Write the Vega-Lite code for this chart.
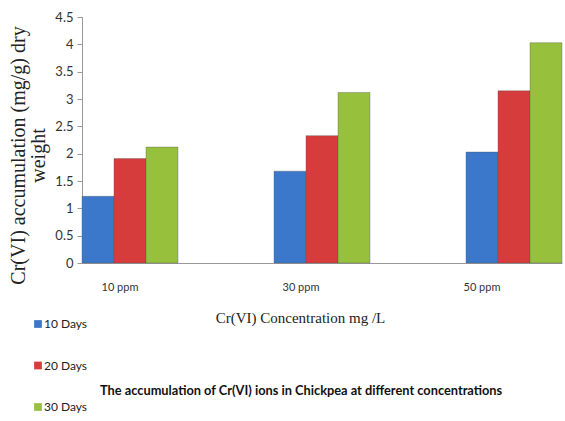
{
  "$schema": "https://vega.github.io/schema/vega-lite/v6.json",
  "autosize": {"type": "none"},
  "width": 480,
  "height": 246,
  "padding": {"left": 82, "top": 17, "right": 3, "bottom": 158},
  "background": "white",
  "data": {
    "values": [
      {"conc": "10 ppm", "series": "10 Days", "value": 1.22},
      {"conc": "10 ppm", "series": "20 Days", "value": 1.91},
      {"conc": "10 ppm", "series": "30 Days", "value": 2.12},
      {"conc": "30 ppm", "series": "10 Days", "value": 1.68},
      {"conc": "30 ppm", "series": "20 Days", "value": 2.33},
      {"conc": "30 ppm", "series": "30 Days", "value": 3.12},
      {"conc": "50 ppm", "series": "10 Days", "value": 2.03},
      {"conc": "50 ppm", "series": "20 Days", "value": 3.15},
      {"conc": "50 ppm", "series": "30 Days", "value": 4.03}
    ]
  },
  "title": {
    "text": "The accumulation of Cr(VI) ions in Chickpea at different concentrations",
    "orient": "bottom",
    "anchor": "start",
    "frame": "group",
    "font": "Lato",
    "fontSize": 12.8,
    "fontWeight": "bold",
    "color": "#111111",
    "offset": -28,
    "dx": 18
  },
  "mark": {"type": "bar", "stroke": "#555555", "strokeWidth": 0.6, "strokeOpacity": 0.6},
  "encoding": {
    "x": {
      "field": "conc",
      "type": "nominal",
      "scale": {"paddingInner": 0.5, "paddingOuter": 0},
      "axis": {
        "title": "Cr(VI) Concentration mg /L",
        "titleFont": "Liberation Serif",
        "titleFontWeight": "normal",
        "titleFontSize": 15,
        "titleColor": "#222222",
        "titleX": 218,
        "titleY": 47,
        "labelAngle": 0,
        "labelFont": "Lato",
        "labelFontSize": 11,
        "labelColor": "#333333",
        "labelPadding": 18,
        "labelOffset": {"condition": [{"test": "datum.value === '10 ppm'", "value": -10}, {"test": "datum.value === '30 ppm'", "value": -21}], "value": -32},
        "ticks": false,
        "domainColor": "#999999"
      }
    },
    "xOffset": {"field": "series", "type": "nominal", "scale": {"paddingInner": 0, "paddingOuter": 0}},
    "y": {
      "field": "value",
      "type": "quantitative",
      "scale": {"domain": [0, 4.5], "nice": false},
      "axis": {
        "values": [0, 0.5, 1, 1.5, 2, 2.5, 3, 3.5, 4, 4.5],
        "format": ".1~f",
        "grid": false,
        "title": ["Cr(VI) accumulation (mg/g) dry", "weight"],
        "titleFont": "Liberation Serif",
        "titleFontWeight": "normal",
        "titleFontSize": 20,
        "titleColor": "#222222",
        "titleLineHeight": 20,
        "titleX": -54,
        "titleY": 138,
        "labelFont": "Lato",
        "labelFontSize": 13,
        "labelColor": "#333333",
        "labelPadding": 4,
        "tickSize": 5,
        "tickColor": "#999999",
        "domainColor": "#999999"
      }
    },
    "color": {
      "field": "series",
      "type": "nominal",
      "scale": {"domain": ["10 Days", "20 Days", "30 Days"], "range": ["#3b78cc", "#d63c3c", "#97c03c"]},
      "legend": {
        "title": null,
        "orient": "none",
        "legendX": -50,
        "legendY": 301,
        "direction": "vertical",
        "symbolType": "square",
        "symbolSize": 60,
        "symbolStrokeWidth": 0,
        "labelFont": "Lato",
        "labelFontSize": 12,
        "labelColor": "#222222",
        "rowPadding": 29.5,
        "labelOffset": 0
      }
    }
  },
  "config": {"view": {"stroke": null}}
}
